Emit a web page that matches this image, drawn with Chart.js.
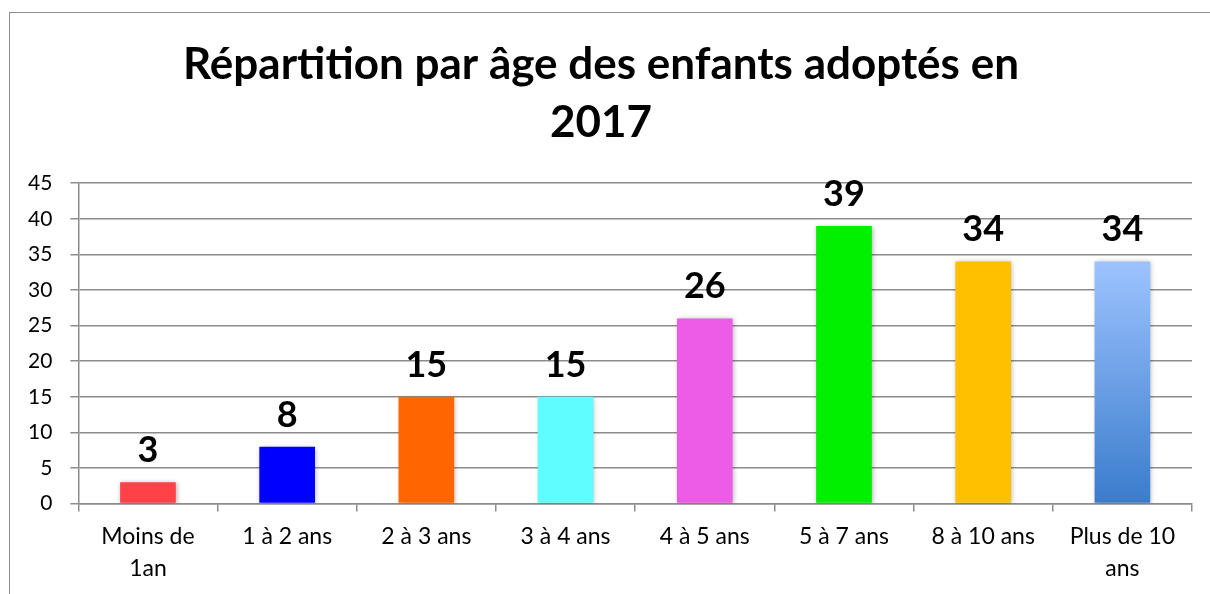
<!DOCTYPE html>
<html>
<head>
<meta charset="utf-8">
<script src="https://cdn.jsdelivr.net/npm/chart.js@4"></script>
<style>
  html, body { margin: 0; padding: 0; background: #fff; overflow: hidden; }
  #frame { position: absolute; left: 9px; top: 12px; width: 1300px; height: 700px;
           border-left: 1.5px solid #8c8c8c; border-top: 1.5px solid #8c8c8c; }
  #wrap { position: absolute; left: 0; top: 0; width: 1210px; height: 594px; }
</style>
</head>
<body>
<div id="frame"></div>
<div id="wrap"><canvas id="mycanvas"></canvas></div>
<script>
const titleLines = ['Répartition par âge des enfants adoptés en', '2017'];
const categories = [['Moins de', '1an'], '1 à 2 ans', '2 à 3 ans', '3 à 4 ans', '4 à 5 ans', '5 à 7 ans', '8 à 10 ans', ['Plus de 10', 'ans']];
const counts = [3, 8, 15, 15, 26, 39, 34, 34];
const barColors = ['#ff4148', '#0000ff', '#ff6600', '#5ffdff', '#ec5ce6', '#00f000', '#ffc000', null];

const FONT = 'Lato, "Open Sans", sans-serif';

// last bar has a light-to-dark blue gradient
const barFill = (c) => {
    const col = barColors[c.dataIndex];
    if (col) return col;
    const chart = c.chart;
    if (!chart.chartArea) return '#6a9de8';
    const y = chart.scales.y;
    const g = chart.ctx.createLinearGradient(0, y.getPixelForValue(counts[c.dataIndex]), 0, y.getPixelForValue(0));
    g.addColorStop(0, '#9dc3ff');
    g.addColorStop(1, '#3a7ccc');
    return g;
};

const shadowPlugin = {
    id: 'barShadow',
    beforeDatasetDraw(chart) {
        const ctx = chart.ctx;
        ctx.save();
        ctx.shadowColor = 'rgba(0,0,0,0.3)';
        ctx.shadowBlur = 5;
        ctx.shadowOffsetX = 1;
        ctx.shadowOffsetY = 1;
    },
    afterDatasetDraw(chart) {
        chart.ctx.restore();
    }
};

const valueLabels = {
    id: 'valueLabels',
    afterDatasetsDraw(chart) {
        const ctx = chart.ctx;
        const meta = chart.getDatasetMeta(0);
        ctx.save();
        ctx.font = 'bold 36px ' + FONT;
        ctx.fillStyle = '#000';
        ctx.textAlign = 'center';
        ctx.textBaseline = 'alphabetic';
        meta.data.forEach((bar, i) => {
            ctx.fillText(String(counts[i]), bar.x, bar.y - 20);
        });
        ctx.restore();
    }
};

const ChartsDisplay = () => {
    const ctx = document.getElementById('mycanvas').getContext('2d');
    const myChart = new Chart(ctx, {
        type: 'bar',
        data: {
            labels: categories,
            datasets: [{
                data: counts,
                backgroundColor: barFill,
                borderWidth: 0,
                categoryPercentage: 1,
                barPercentage: 0.4
            }]
        },
        options: {
            responsive: true,
            maintainAspectRatio: false,
            animation: { duration: 0 },
            layout: { padding: { left: 10, right: 18, top: 36, bottom: 0 } },
            plugins: {
                legend: { display: false },
                tooltip: { enabled: false },
                title: {
                    display: true,
                    text: titleLines,
                    color: '#000',
                    font: { family: FONT, size: 44, weight: 'bold', lineHeight: 1.32 },
                    padding: { top: 0, bottom: 31 }
                }
            },
            scales: {
                y: {
                    min: 0,
                    max: 45,
                    ticks: { stepSize: 5, color: '#000', padding: 18, font: { family: FONT, size: 21 } },
                    grid: { color: '#8c8c8c', lineWidth: 1.5, tickLength: 8 },
                    border: { color: '#8c8c8c', width: 1.5 }
                },
                x: {
                    ticks: { color: '#000', padding: 9, maxRotation: 0, autoSkip: false,
                             font: { family: FONT, size: 23, lineHeight: 1.4 } },
                    grid: { drawOnChartArea: false, drawTicks: true, tickLength: 8, color: '#8c8c8c', lineWidth: 1.5 },
                    border: { color: '#8c8c8c', width: 1.5 }
                }
            }
        },
        plugins: [shadowPlugin, valueLabels]
    });
};

ChartsDisplay();
</script>
</body>
</html>
